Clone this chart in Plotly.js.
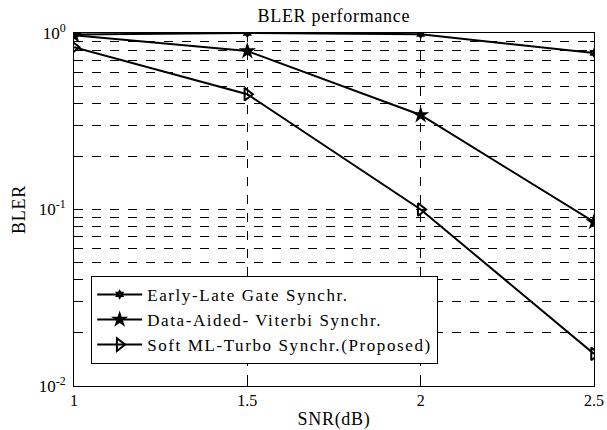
<!DOCTYPE html>
<html>
<head>
<meta charset="utf-8">
<script src="https://cdn.plot.ly/plotly-3.0.1.min.js"></script>
<style>html,body{margin:0;padding:0;background:#fff;}#chart{width:607px;height:430px;}
.gtitle, .xtitle, .ytitle {letter-spacing: 0.7px;}
.legendtext {letter-spacing: 1.6px;}
</style>
</head>
<body>
<div id="chart"></div>
<script>
const snr = [1, 1.5, 2, 2.5];
const earlyLate = [0.98, 1.0, 0.985, 0.77];
const dataAided = [0.97, 0.79, 0.343, 0.085];
const softML = [0.83, 0.45, 0.10, 0.0152];
const seriesNames = ['Early-Late Gate Synchr.', 'Data-Aided- Viterbi Synchr.', 'Soft ML-Turbo Synchr.(Proposed)'];
const xTicks = [1, 1.5, 2, 2.5];
const yTickVals = [0.01,0.02,0.03,0.04,0.05,0.06,0.07,0.08,0.09,0.1,0.2,0.3,0.4,0.5,0.6,0.7,0.8,0.9,1];
const yTickText = ['10<sup>-2</sup>','','','','','','','','','10<sup>-1</sup>','','','','','','','','','10<sup>0</sup>'];

const font = {family: 'Liberation Serif, Times New Roman, serif', color: '#000'};
const traces = [
  {x: snr, y: earlyLate, name: seriesNames[0], mode: 'lines+markers',
   line: {color: '#000', width: 2}, marker: {symbol: 'hexagram', size: 8, color: '#000'}},
  {x: snr, y: dataAided, name: seriesNames[1], mode: 'lines+markers',
   line: {color: '#000', width: 2}, marker: {symbol: 'star', size: 13, color: '#000'}},
  {x: snr, y: softML, name: seriesNames[2], mode: 'lines+markers',
   line: {color: '#000', width: 2}, marker: {symbol: 'triangle-right-open', size: 11, color: '#000', line: {width: 2, color: '#000'}}}
];
const layout = {
  width: 607, height: 430,
  margin: {l: 74, r: 13, t: 33, b: 44},
  paper_bgcolor: '#fff', plot_bgcolor: '#fff',
  font: Object.assign({size: 15}, font),
  title: {text: 'BLER performance', font: Object.assign({size: 18}, font), x: 0.55, xanchor: 'center', y: 0.978, yanchor: 'top'},
  showlegend: true,
  legend: {x: 0.033, y: 0.312, xanchor: 'left', yanchor: 'top', bgcolor: '#fff', bordercolor: '#000', borderwidth: 1,
           font: Object.assign({size: 17}, font), itemwidth: 45, tracegroupgap: 0},
  xaxis: {range: [1, 2.5], tickvals: xTicks, ticktext: xTicks.map(String), showline: true, mirror: 'ticks',
          linecolor: '#000', linewidth: 1, ticks: 'inside', ticklen: 5, tickcolor: '#000',
          tickfont: Object.assign({size: 16}, font),
          showgrid: true, gridcolor: '#000', griddash: 'dash', gridwidth: 1, zeroline: false,
          title: {text: 'SNR(dB)', font: Object.assign({size: 18}, font), standoff: 4}},
  yaxis: {type: 'log', range: [-2, 0], tickvals: yTickVals, ticktext: yTickText, showline: true, mirror: 'ticks',
          linecolor: '#000', linewidth: 1, ticks: 'inside', ticklen: 4, tickcolor: '#000',
          tickfont: Object.assign({size: 17}, font), ticklabelstandoff: 4,
          showgrid: true, gridcolor: '#000', griddash: 'dash', gridwidth: 1, zeroline: false,
          title: {text: 'BLER', font: Object.assign({size: 18}, font), standoff: 8}}
};
Plotly.newPlot('chart', traces, layout, {displayModeBar: false, staticPlot: true});
</script>
</body>
</html>
